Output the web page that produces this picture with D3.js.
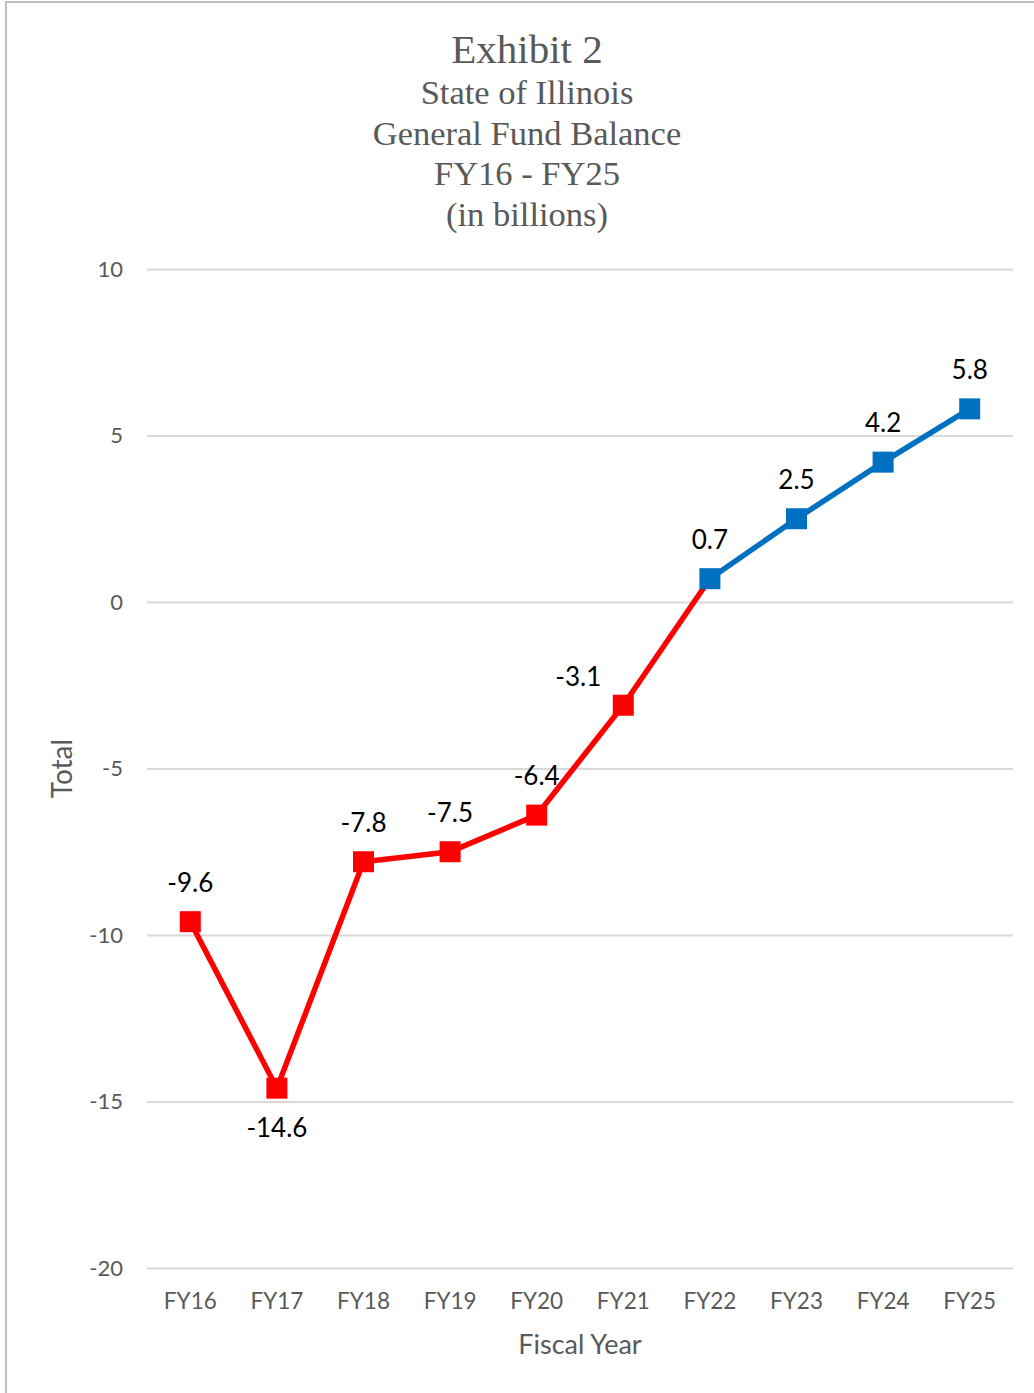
<!DOCTYPE html>
<html>
<head>
<meta charset="utf-8">
<script src="https://cdn.jsdelivr.net/npm/d3@7"></script>
<style>
  body { margin: 0; background: #fff; }
  svg { display: block; }
</style>
</head>
<body>
<svg id="chart" width="1034" height="1393"></svg>
<script>
// chart data
const years = ['FY16', 'FY17', 'FY18', 'FY19', 'FY20', 'FY21', 'FY22', 'FY23', 'FY24', 'FY25'];
const balances = [-9.6, -14.6, -7.8, -7.5, -6.4, -3.1, 0.7, 2.5, 4.2, 5.8];
const yTicks = [10, 5, 0, -5, -10, -15, -20];
const titleLines = ['Exhibit 2', 'State of Illinois', 'General Fund Balance', 'FY16 - FY25', '(in billions)'];

const RED = '#ff0000';
const BLUE = '#0070c0';
const GREY = '#595959';
const SANS = 'Lato, "Open Sans", sans-serif';

const svg = d3.select('#chart');

// outer frame (only top and left edges are visible in the source)
svg.append('rect')
    .attr('x', 6).attr('y', 2)
    .attr('width', 1100).attr('height', 1500)
    .attr('fill', 'none')
    .attr('stroke', '#bfbfbf')
    .attr('stroke-width', 2);

const plot = { left: 147, right: 1013, top: 269, bottom: 1268 };

const x = d3.scaleBand()
    .domain(years)
    .range([plot.left, plot.right]);

const y = d3.scaleLinear()
    .domain([-20, 10])
    .range([plot.bottom, plot.top]);

// title
svg.append('g').selectAll('text')
    .data(titleLines)
    .enter()
    .append('text')
    .attr('x', 527)
    .attr('y', (d, i) => i === 0 ? 63 : 104 + (i - 1) * 40.5)
    .attr('text-anchor', 'middle')
    .attr('font-family', '"Liberation Serif", "DejaVu Serif", serif')
    .attr('font-size', (d, i) => i === 0 ? 41 : 34.5)
    .attr('fill', GREY)
    .text(d => d);

// gridlines + y labels
const yAxis = svg.append('g')
    .attr('transform', `translate(${plot.left},0)`)
    .call(d3.axisLeft(y).tickValues(yTicks).tickFormat(d => String(d))
        .tickSize(-(plot.right - plot.left)).tickPadding(24));
yAxis.select('.domain').remove();
yAxis.selectAll('.tick line').attr('stroke', '#d9d9d9').attr('stroke-width', 2);
yAxis.selectAll('.tick text')
    .attr('fill', GREY)
    .attr('font-family', SANS)
    .attr('font-size', 22);

// x labels
const xAxis = svg.append('g')
    .attr('transform', `translate(0,${plot.bottom})`)
    .call(d3.axisBottom(x).tickSize(0).tickPadding(25));
xAxis.select('.domain').remove();
xAxis.selectAll('.tick text')
    .attr('fill', GREY)
    .attr('font-family', SANS)
    .attr('font-size', 22.5);

// axis titles
svg.append('text')
    .attr('x', 580)
    .attr('y', 1354)
    .attr('text-anchor', 'middle')
    .attr('font-family', SANS)
    .attr('font-size', 27)
    .attr('fill', GREY)
    .text('Fiscal Year');

svg.append('text')
    .attr('transform', `translate(72,${(plot.top + plot.bottom) / 2}) rotate(-90)`)
    .attr('text-anchor', 'middle')
    .attr('font-family', SANS)
    .attr('font-size', 28)
    .attr('fill', GREY)
    .text('Total');

// line: red up to the first positive point, blue afterwards
const points = years.map((yr, i) => ({ year: yr, value: balances[i] }));
const firstPos = points.findIndex(d => d.value > 0);
const line = d3.line()
    .x(d => x(d.year) + x.bandwidth() / 2)
    .y(d => y(d.value));

svg.append('path')
    .datum(points.slice(0, firstPos + 1))
    .attr('d', line)
    .attr('fill', 'none')
    .attr('stroke', RED)
    .attr('stroke-width', 5.5);

svg.append('path')
    .datum(points.slice(firstPos))
    .attr('d', line)
    .attr('fill', 'none')
    .attr('stroke', BLUE)
    .attr('stroke-width', 5.5);

// square markers
const m = 21;
svg.append('g').selectAll('rect')
    .data(points)
    .enter()
    .append('rect')
    .attr('x', d => x(d.year) + x.bandwidth() / 2 - m / 2)
    .attr('y', d => y(d.value) - m / 2)
    .attr('width', m)
    .attr('height', m)
    .attr('fill', d => d.value > 0 ? BLUE : RED);

// data labels, above the marker; the minimum sits below, FY21 is nudged left
const minVal = d3.min(balances);
svg.append('g').selectAll('text')
    .data(points)
    .enter()
    .append('text')
    .attr('x', d => x(d.year) + x.bandwidth() / 2 + (d.year === 'FY21' ? -45 : 0))
    .attr('y', d => {
        if (d.value === minVal) return y(d.value) + 49;
        if (d.year === 'FY21') return y(d.value) - 19;
        return y(d.value) - 30;
    })
    .attr('text-anchor', 'middle')
    .attr('font-family', SANS)
    .attr('font-size', 26)
    .attr('fill', '#000')
    .text(d => d.value);
</script>
</body>
</html>
